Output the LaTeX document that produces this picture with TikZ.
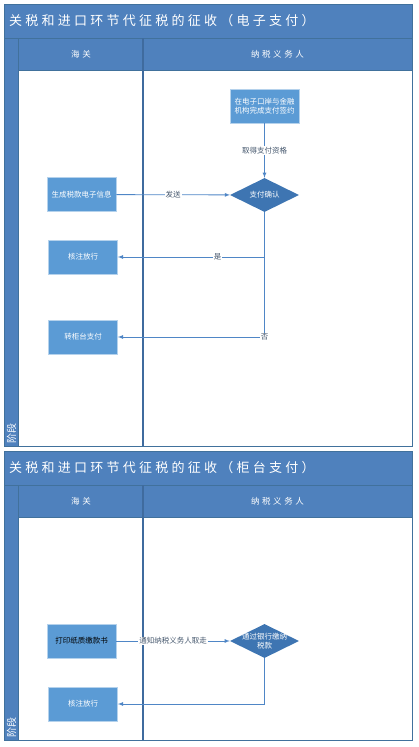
\documentclass[tikz,border=0pt]{standalone}
\usepackage{fontspec}
\setmainfont{Noto Sans CJK SC}
\newfontfamily\titlefont[LetterSpace=25]{Noto Sans CJK SC}
\newfontfamily\headfont[LetterSpace=30]{Noto Sans CJK SC}
\usetikzlibrary{arrows,shapes,calc}
\definecolor{headblue}{RGB}{79,129,189}
\definecolor{taskblue}{RGB}{91,155,213}
\definecolor{decblue}{RGB}{62,117,178}
\definecolor{edgeblue}{RGB}{65,113,156}
\definecolor{flowblue}{RGB}{79,134,198}
\definecolor{lbltext}{RGB}{70,88,110}

\begin{document}
\begin{tikzpicture}[x=1pt,y=-1pt,
    task/.style={rectangle,draw=taskblue!45,line width=.7pt,fill=taskblue,text=white,
      minimum width=69pt,minimum height=34pt,inner sep=1pt,align=center,
      font=\fontsize{7.5}{9}\selectfont},
    decide/.style={diamond,fill=decblue,minimum width=69pt,minimum height=34pt,inner sep=0pt},
    dtext/.style={text=white,align=center,inner sep=0pt,font=\fontsize{7.5}{9}\selectfont},
    flow/.style={draw=flowblue,line width=.8pt,-latex},
    lbl/.style={fill=white,text=lbltext,inner sep=1pt,font=\fontsize{7.5}{8}\selectfont}]

        \useasboundingbox (0,0) rectangle (418,747);

        % the two pools
        \foreach \ya/\yb/\kind in {4/446/电子支付,451/740/柜台支付} {
          \fill[headblue] (4,\ya) rectangle (412,\ya+66);
          \fill[headblue] (4,\ya+34) rectangle (18,\yb);
          \draw[edgeblue,line width=1pt] (4,\ya) rectangle (412,\yb);
          \draw[edgeblue,line width=.8pt] (4,\ya+34) -- (412,\ya+34);
          \draw[edgeblue,line width=.8pt] (18,\ya+66) -- (412,\ya+66);
          \draw[edgeblue,line width=.8pt] (18,\ya+34) -- (18,\yb);
          \draw[flowblue!80!black,line width=1.2pt] (143,\ya+34) -- (143,\yb);
          \node[anchor=west,text=white,inner sep=0pt,font=\titlefont\fontsize{13}{13}\selectfont]
            (title\ya) at (9,\ya+17) {关税和进口环节代征税的征收（\kind）};
          \node[text=white,font=\headfont\fontsize{8.5}{9}\selectfont] (customs\ya) at (81,\ya+50) {海关};
          \node[text=white,font=\headfont\fontsize{8.5}{9}\selectfont] (payer\ya) at (277.5,\ya+50) {纳税义务人};
          \node[rotate=90,anchor=west,text=white,inner sep=0pt,font=\fontsize{10}{10}\selectfont]
            (stage\ya) at (11.5,\yb-2) {阶段};
        }

        % electronic payment
        \node[task] (sign) at (264.5,106) {在电子口岸与金融\\机构完成支付签约};
        \node[decide,label={[dtext]center:支付确认}] (confirm) at (264.5,195) {};
        \node[task] (gen) at (81.5,194.5) {生成税款电子信息};
        \node[task] (pass1) at (83,257) {核注放行};
        \node[task] (counter) at (83,337) {转柜台支付};

        \draw[flow] (sign) -- node[lbl] (lqual) {取得支付资格} (confirm);
        \draw[flow] (gen) -- node[lbl] (lsend) {发送} (confirm);
        \draw[flow] (confirm.south) |- node[lbl,pos=.66] (lyes) {是} (pass1);
        \draw[flow] (confirm.south) |- node[lbl,pos=.5] (lno) {否} (counter);

        % counter payment
        \node[task,text=black] (print) at (81.5,641) {打印纸质缴款书};
        \node[decide,label={[dtext]center:通过银行缴纳\\税款}] (bank) at (264.5,641) {};
        \node[task] (pass2) at (83,704) {核注放行};

        \draw[flow] (print) -- node[lbl] (lnotify) {通知纳税义务人取走} (bank);
        \draw[flow] (bank.south) |- (pass2);

      \end{tikzpicture}
\end{document}
